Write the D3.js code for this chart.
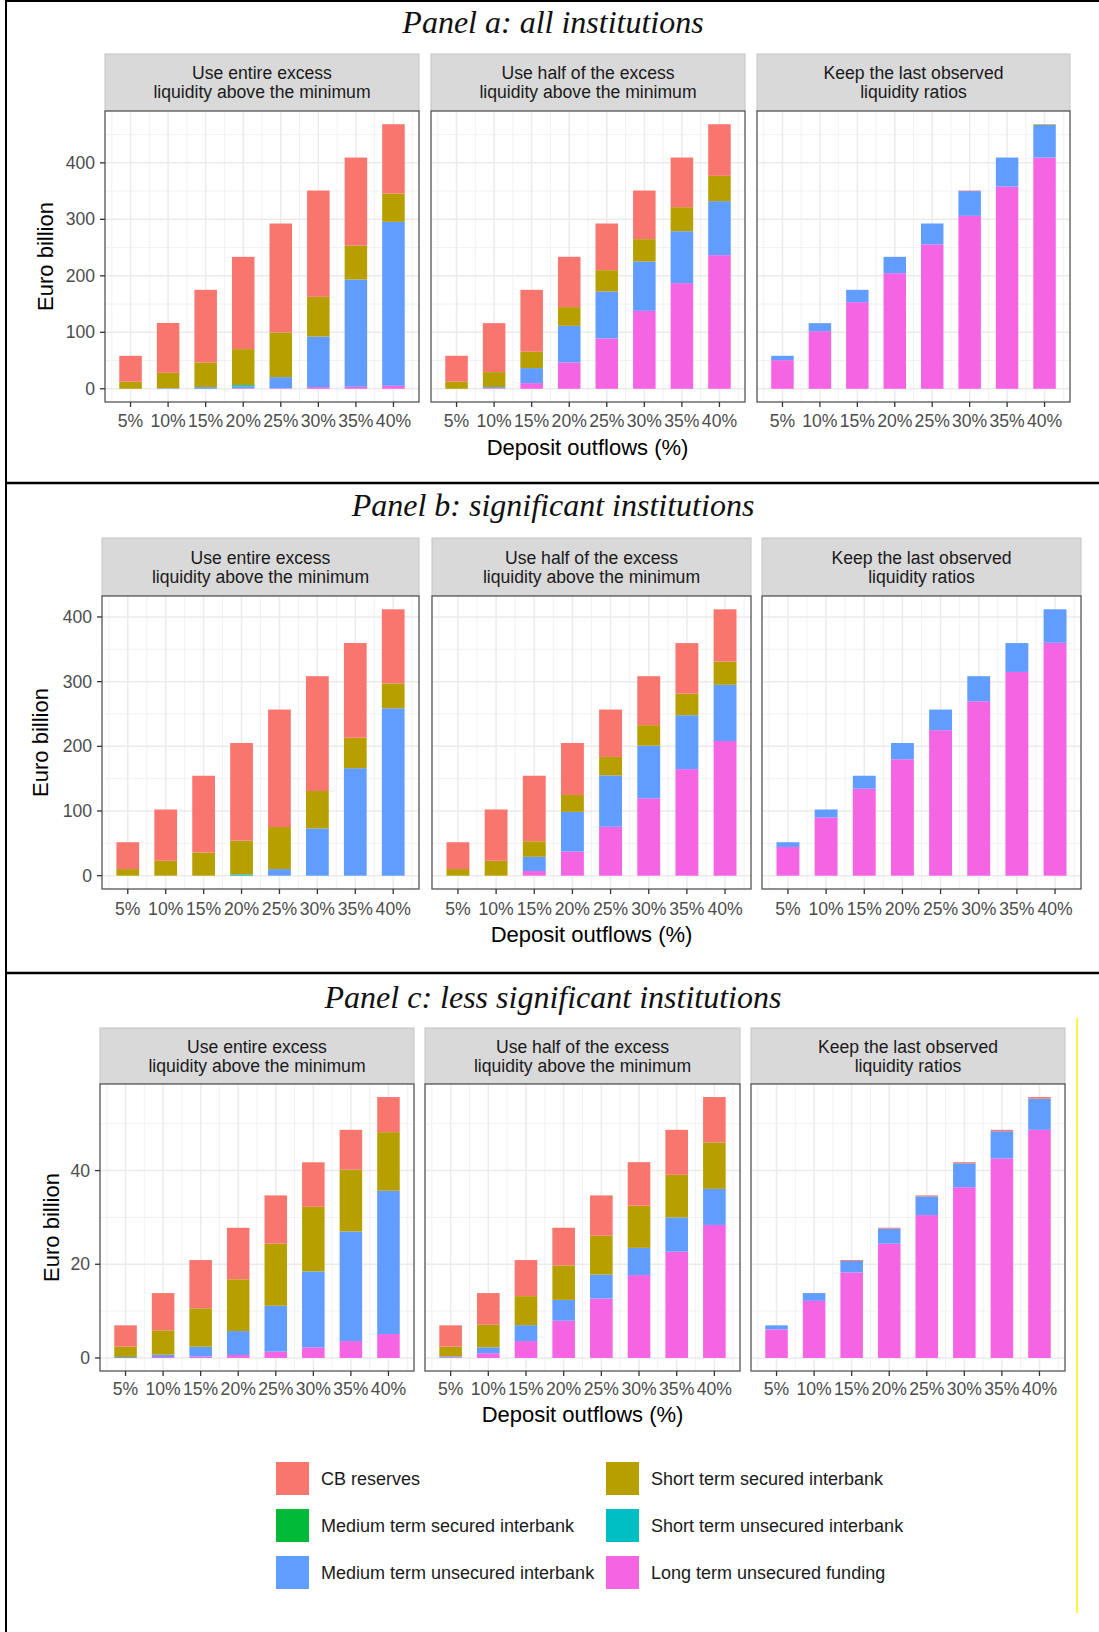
<!DOCTYPE html>
<html><head><meta charset="utf-8">
<script src="https://cdn.jsdelivr.net/npm/d3@7"></script>
<style>body{margin:0;background:#fff} svg{display:block}</style>
</head><body><svg id="c" width="1099" height="1632"></svg>
<script>
// ---------- data ----------
const categories = ["5%","10%","15%","20%","25%","30%","35%","40%"];
const outflows = [5,10,15,20,25,30,35,40];
const seriesNames = ["CB reserves","Short term secured interbank","Medium term secured interbank",
  "Short term unsecured interbank","Medium term unsecured interbank","Long term unsecured funding"];
const seriesColors = ["#F8766D","#B79F00","#00BA38","#00BFC4","#619CFF","#F564E3"];
const scenarioLines = [
  ["Use entire excess","liquidity above the minimum"],
  ["Use half of the excess","liquidity above the minimum"],
  ["Keep the last observed","liquidity ratios"]
];
const panelTitles = ["Panel a: all institutions","Panel b: significant institutions","Panel c: less significant institutions"];
const yTicksA = [0,100,200,300,400];
const yTicksB = [0,100,200,300,400];
const yTicksC = [0,20,40];

// each array: rows in seriesNames order (CB, STS, MTS, STU, MTU, LTU), columns = outflows
const aEntire = [
  [46.0, 88.2, 128.6, 163.4, 192.9, 188.2, 155.7, 122.7],
  [12.4, 27.3, 43.6, 63.7, 79.1, 70.2, 60.2, 50.1],
  [0, 0, 0, 0, 0, 0, 0, 0],
  [0, 0, 0, 2.5, 0, 0, 0, 0],
  [0, 1, 3, 3, 19.6, 89.6, 190, 290.3],
  [0, 0, 0, 1, 1, 3, 3.5, 5.3]
];
const aHalf = [
  [46.0, 86.7, 109.7, 89.1, 82.6, 86.1, 87.9, 91.4],
  [12.4, 26.5, 28.9, 33.1, 37.7, 39.5, 42.5, 44.8],
  [0, 0, 0, 0, 0, 0, 0, 0],
  [0, 0, 0, 0, 0, 0, 0, 0],
  [0, 2, 26.6, 64.9, 83.2, 87.4, 92, 95.6],
  [0, 1, 10, 46.6, 89.1, 138, 187, 236.6]
];
const aKeep = [
  [0, 0, 0, 0, 0, 1, 0, 0],
  [0, 0, 0, 0, 0, 0, 0, 1],
  [0, 0, 0, 0, 0, 0, 0, 0],
  [0, 0, 0, 0, 0, 0, 0, 0],
  [7.7, 14.2, 21.8, 28.9, 37.1, 43.8, 51.3, 58],
  [50.7, 102, 153.4, 204.7, 255.5, 306.2, 358.1, 409.4]
];
const bEntire = [
  [41.5, 79.3, 118.7, 150.9, 181.6, 177.5, 146.4, 114.6],
  [10.2, 23, 35.8, 52.2, 65, 57.8, 47.1, 38.4],
  [0, 0, 0, 0, 0, 0, 0, 0],
  [0, 0, 0, 2, 0, 0, 0, 0],
  [0, 0, 0, 0, 10.2, 73.1, 166.2, 258.8],
  [0, 0, 0, 0, 0, 0, 0, 0]
];
const bHalf = [
  [41.5, 79.3, 101.3, 80.3, 73.2, 75.7, 78.3, 80.8],
  [10.2, 23, 24, 26.1, 28.6, 31.7, 33.2, 35.9],
  [0, 0, 0, 0, 0, 0, 0, 0],
  [0, 0, 0, 0, 0, 0, 0, 0],
  [0, 0, 22, 61.4, 79.3, 81.3, 83.4, 86.9],
  [0, 0, 7.2, 37.3, 75.7, 119.7, 164.7, 208.2]
];
const bKeep = [
  [0, 0, 0, 0, 0, 0, 0, 0],
  [0, 0, 0, 0, 0, 0, 0, 0],
  [0, 0, 0, 0, 0, 0, 0, 0],
  [0, 0, 0, 0, 0, 0, 0, 0],
  [7.2, 12.3, 20, 25.1, 31.8, 38.8, 44.6, 51.7],
  [44.5, 90, 134.5, 180, 225, 269.6, 315, 360.1]
];
const cEntire = [
  [4.56, 7.95, 10.3, 11, 10.3, 9.5, 8.5, 7.5],
  [2.2, 5.2, 8.2, 11.05, 13.25, 13.8, 13.2, 12.5],
  [0, 0, 0, 0, 0, 0, 0, 0],
  [0, 0, 0, 0, 0, 0, 0, 0],
  [0.2, 0.5, 2.1, 5.1, 9.8, 16.2, 23.4, 30.6],
  [0, 0.2, 0.3, 0.64, 1.35, 2.27, 3.6, 5.1]
];
const cHalf = [
  [4.56, 6.75, 7.7, 8.05, 8.6, 9.3, 9.6, 9.7],
  [2.05, 4.83, 6.2, 7.35, 8.3, 9, 9.1, 9.9],
  [0, 0, 0, 0, 0, 0, 0, 0],
  [0, 0, 0, 0, 0, 0, 0, 0],
  [0.21, 1.27, 3.4, 4.44, 5.1, 5.8, 7.3, 7.7],
  [0.14, 1, 3.6, 7.96, 12.7, 17.7, 22.7, 28.4]
];
const cKeep = [
  [0, 0, 0.2, 0.2, 0.2, 0.25, 0.3, 0.35],
  [0, 0, 0, 0, 0, 0, 0, 0],
  [0, 0, 0, 0, 0, 0, 0, 0],
  [0, 0, 0, 0, 0, 0, 0, 0],
  [0.86, 1.65, 2.44, 3.2, 4, 5.1, 5.8, 6.65],
  [6.1, 12.2, 18.26, 24.4, 30.5, 36.45, 42.6, 48.7]
];

// ---------- layout ----------
const FONT = "'Liberation Sans', Arial, Helvetica, sans-serif";
const svg = d3.select("#c");
const panels = [
  {data:[aEntire,aHalf,aKeep], ticks:yTicksA, titleY:33,
   charts:[[105,419],[431,745],[757,1070]], stripTop:54, plotTop:111, plotBottom:402,
   ytitleX:45, tickLabelY:421, xTitleY:447},
  {data:[bEntire,bHalf,bKeep], ticks:yTicksB, titleY:516,
   charts:[[102,419],[432,751],[762,1081]], stripTop:538, plotTop:596, plotBottom:889,
   ytitleX:40, tickLabelY:909, xTitleY:934},
  {data:[cEntire,cHalf,cKeep], ticks:yTicksC, titleY:1008,
   charts:[[100,414],[425,740],[751,1065]], stripTop:1028, plotTop:1084, plotBottom:1371,
   ytitleX:51, tickLabelY:1389, xTitleY:1414}
];

// frame lines
const frame = svg.append("g").attr("stroke","#000");
frame.append("line").attr("x1",5).attr("x2",1099).attr("y1",1).attr("y2",1).attr("stroke-width",2);
frame.append("line").attr("x1",6).attr("x2",6).attr("y1",0).attr("y2",1632).attr("stroke-width",2);
frame.append("line").attr("x1",5).attr("x2",1099).attr("y1",483).attr("y2",483).attr("stroke-width",2.5);
frame.append("line").attr("x1",5).attr("x2",1099).attr("y1",973).attr("y2",973).attr("stroke-width",2.5);
svg.append("line").attr("x1",1077).attr("x2",1077).attr("y1",1018).attr("y2",1613)
  .attr("stroke","#FFF200").attr("stroke-width",1.5);

const barHalf = 1.5; // 0.6 * 5 / 2
const stackKeys = [5,4,3,2,1,0]; // bottom to top

panels.forEach((p, pi) => {
  const g = svg.append("g");
  g.append("text").attr("x",553).attr("y",p.titleY).attr("text-anchor","middle")
    .attr("font-family","'Liberation Serif','Times New Roman',serif").attr("font-style","italic")
    .attr("font-size",32).attr("fill","#111").text(panelTitles[pi]);

  let maxTot = 0;
  p.data.forEach(d => outflows.forEach((o,i) => {
    maxTot = Math.max(maxTot, d3.sum(d, r => r[i]));
  }));
  const pad = maxTot * 0.05;
  const y = d3.scaleLinear().domain([-pad, maxTot + pad]).range([p.plotBottom, p.plotTop]);
  const step = p.ticks[1] - p.ticks[0];
  const minor = [];
  for (let v = p.ticks[0] + step/2; v <= maxTot + pad; v += step) minor.push(v);

  const lo = outflows[0] - barHalf, hi = outflows[outflows.length-1] + barHalf;
  const xpad = (hi - lo) * 0.05;
  const xMinor = outflows.map(o => o - 2.5).concat([outflows[outflows.length-1] + 2.5]);

  p.charts.forEach((c, ci) => {
    const [x0, x1] = c;
    const x = d3.scaleLinear().domain([lo - xpad, hi + xpad]).range([x0, x1]);
    const cg = g.append("g");
    cg.append("rect").attr("x",x0).attr("y",p.stripTop).attr("width",x1-x0)
      .attr("height",p.plotTop-p.stripTop).attr("fill","#D9D9D9").attr("stroke","#C4C4C4").attr("stroke-width",1);
    const midS = (p.stripTop + p.plotTop)/2;
    scenarioLines[ci].forEach((t, li) => {
      cg.append("text").attr("x",(x0+x1)/2).attr("y", midS + (li === 0 ? -9.5 : 9.5)).attr("dy","0.35em")
        .attr("text-anchor","middle").attr("font-family",FONT).attr("font-size",17.6)
        .attr("fill","#1A1A1A").text(t);
    });
    cg.append("rect").attr("x",x0).attr("y",p.plotTop).attr("width",x1-x0)
      .attr("height",p.plotBottom-p.plotTop).attr("fill","#fff");
    cg.selectAll(".hm").data(minor).join("line")
      .attr("x1",x0).attr("x2",x1).attr("y1",d=>y(d)).attr("y2",d=>y(d))
      .attr("stroke","#F0F0F0").attr("stroke-width",0.9);
    cg.selectAll(".vm").data(xMinor).join("line")
      .attr("y1",p.plotTop).attr("y2",p.plotBottom).attr("x1",d=>x(d)).attr("x2",d=>x(d))
      .attr("stroke","#F0F0F0").attr("stroke-width",0.9);
    cg.selectAll(".hM").data(p.ticks).join("line")
      .attr("x1",x0).attr("x2",x1).attr("y1",d=>y(d)).attr("y2",d=>y(d))
      .attr("stroke","#EBEBEB").attr("stroke-width",1.5);
    cg.selectAll(".vM").data(outflows).join("line")
      .attr("y1",p.plotTop).attr("y2",p.plotBottom).attr("x1",d=>x(d)).attr("x2",d=>x(d))
      .attr("stroke","#EBEBEB").attr("stroke-width",1.5);

    const mat = p.data[ci];
    const rows = outflows.map((o,i) => {
      const r = {o};
      mat.forEach((s,si) => r[si] = s[i]);
      return r;
    });
    const stacked = d3.stack().keys(stackKeys)(rows);
    stacked.forEach(layer => {
      cg.append("g").attr("fill", seriesColors[layer.key])
        .selectAll("rect").data(layer.filter(d => d[1] - d[0] > 0)).join("rect")
        .attr("x", d => x(d.data.o - barHalf))
        .attr("width", d => x(d.data.o + barHalf) - x(d.data.o - barHalf))
        .attr("y", d => y(d[1]))
        .attr("height", d => y(d[0]) - y(d[1]));
    });

    cg.append("rect").attr("x",x0).attr("y",p.plotTop).attr("width",x1-x0)
      .attr("height",p.plotBottom-p.plotTop).attr("fill","none").attr("stroke","#555").attr("stroke-width",1.3);

    cg.selectAll(".xt").data(outflows).join("line")
      .attr("x1",d=>x(d)).attr("x2",d=>x(d)).attr("y1",p.plotBottom).attr("y2",p.plotBottom+5)
      .attr("stroke","#333").attr("stroke-width",1.3);
    cg.selectAll(".xl").data(outflows).join("text")
      .attr("x",d=>x(d)).attr("y",p.tickLabelY).attr("dy","0.35em").attr("text-anchor","middle")
      .attr("font-family",FONT).attr("font-size",17.6).attr("fill","#4D4D4D")
      .text((d,i)=>categories[i]);

    if (ci === 0) {
      cg.selectAll(".yt").data(p.ticks).join("line")
        .attr("x1",x0-5).attr("x2",x0).attr("y1",d=>y(d)).attr("y2",d=>y(d))
        .attr("stroke","#333").attr("stroke-width",1.3);
      cg.selectAll(".yl").data(p.ticks).join("text")
        .attr("x",x0-10).attr("y",d=>y(d)).attr("dy","0.35em").attr("text-anchor","end")
        .attr("font-family",FONT).attr("font-size",17.6).attr("fill","#4D4D4D").text(d=>d);
      cg.append("text").attr("transform",`translate(${p.ytitleX},${(p.plotTop+p.plotBottom)/2}) rotate(-90)`)
        .attr("dy","0.35em").attr("text-anchor","middle").attr("font-family",FONT)
        .attr("font-size",22).attr("fill","#000").text("Euro billion");
    }
  });
  const cx = (p.charts[0][0] + p.charts[2][1]) / 2;
  g.append("text").attr("x",cx).attr("y",p.xTitleY).attr("dy","0.35em").attr("text-anchor","middle")
    .attr("font-family",FONT).attr("font-size",22).attr("fill","#000").text("Deposit outflows (%)");
});

// ---------- legend ----------
const legendCols = [276, 606];
const legendRows = [1462, 1509, 1556];
const lg = svg.append("g");
seriesNames.forEach((name, i) => {
  const col = i % 2, row = Math.floor(i / 2);
  const kx = legendCols[col], ky = legendRows[row];
  lg.append("rect").attr("x",kx).attr("y",ky).attr("width",33).attr("height",33)
    .attr("fill",seriesColors[i]);
  lg.append("text").attr("x",kx+45).attr("y",ky+16.5)
    .attr("dy","0.35em").attr("font-family",FONT).attr("font-size",18)
    .attr("fill","#1A1A1A").text(name);
});
</script>
</body></html>
